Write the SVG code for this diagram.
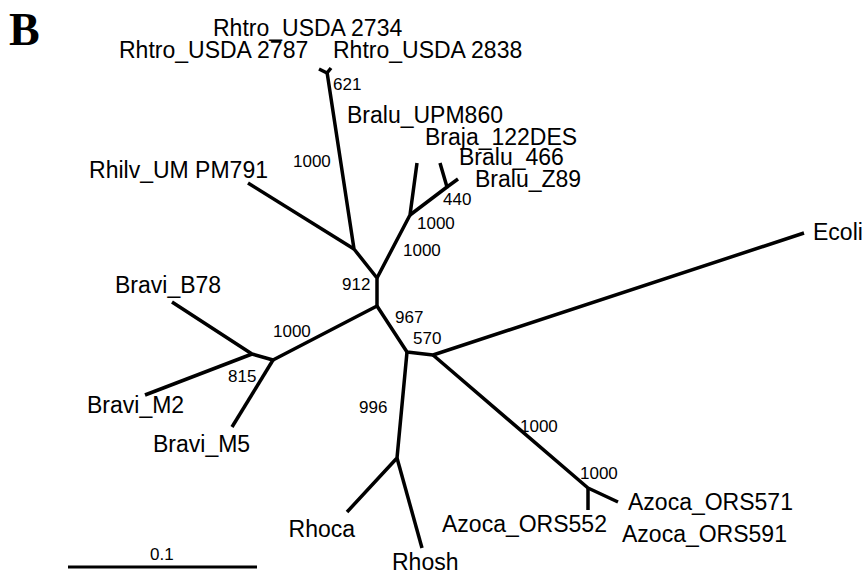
<svg xmlns="http://www.w3.org/2000/svg" width="867" height="574" viewBox="0 0 867 574">
<style>
.br{fill:none;stroke:#000;stroke-width:3.5;stroke-linejoin:round;stroke-linecap:butt}
.lf{font-family:"Liberation Sans",Arial,sans-serif;font-size:23px;fill:#000}
.bs{font-family:"Liberation Sans",Arial,sans-serif;font-size:17px;fill:#000}
</style>
<rect width="867" height="574" fill="#fff"/>
<text x="9" y="45" font-family="'Liberation Serif','Times New Roman',serif" font-weight="bold" font-size="46">B</text>
<g id="connectors">
<polyline class="br" points="377,306 377,278 354,249 327,72"/>
<polyline class="br" points="319,69 327,73 331,68"/>
<line class="br" x1="354" y1="249" x2="248" y2="183"/>
<polyline class="br" points="377,278 410,215 417,163"/>
<polyline class="br" points="410,215 447,187 440,163"/>
<line class="br" x1="447" y1="187" x2="458" y2="179"/>
<polyline class="br" points="377,306 273,360 252,354 172,302"/>
<line class="br" x1="252" y1="354" x2="145" y2="395"/>
<line class="br" x1="273" y1="360" x2="232" y2="427"/>
<polyline class="br" points="377,306 407,352 433,355 804,233"/>
<polyline class="br" points="433,355 588,488 618,502"/>
<line class="br" x1="588" y1="488" x2="588" y2="510"/>
<polyline class="br" points="407,352 397,458 347,512"/>
<line class="br" x1="397" y1="458" x2="422" y2="548"/>
<line x1="68" y1="567" x2="257" y2="567" stroke="#000" stroke-width="2.8"/>
</g>
<g id="Rhtro_USDA_2734"><text class="lf" x="213" y="36">Rhtro_USDA 2734</text></g>
<g id="Rhtro_USDA_2787"><text class="lf" x="119" y="58">Rhtro_USDA 2787</text></g>
<g id="Rhtro_USDA_2838"><text class="lf" x="333" y="58">Rhtro_USDA 2838</text></g>
<g id="Bralu_UPM860"><text class="lf" x="347" y="123">Bralu_UPM860</text></g>
<g id="Braja_122DES"><text class="lf" x="425" y="145">Braja_122DES</text></g>
<g id="Bralu_466"><text class="lf" x="459" y="165">Bralu_466</text></g>
<g id="Bralu_Z89"><text class="lf" x="475" y="187">Bralu_Z89</text></g>
<g id="Rhilv_UM_PM791"><text class="lf" x="268" y="178" text-anchor="end">Rhilv_UM PM791</text></g>
<g id="Ecoli"><text class="lf" x="813" y="240">Ecoli</text></g>
<g id="Bravi_B78"><text class="lf" x="115" y="293">Bravi_B78</text></g>
<g id="Bravi_M2"><text class="lf" x="87" y="413">Bravi_M2</text></g>
<g id="Bravi_M5"><text class="lf" x="153" y="452">Bravi_M5</text></g>
<g id="Azoca_ORS571"><text class="lf" x="628" y="510">Azoca_ORS571</text></g>
<g id="Azoca_ORS552"><text class="lf" x="442" y="532">Azoca_ORS552</text></g>
<g id="Azoca_ORS591"><text class="lf" x="622" y="542">Azoca_ORS591</text></g>
<g id="Rhoca"><text class="lf" x="355" y="537" text-anchor="end">Rhoca</text></g>
<g id="Rhosh"><text class="lf" x="392" y="570">Rhosh</text></g>
<g id="bootstrap">
<text class="bs" x="333" y="90">621</text>
<text class="bs" x="293" y="167">1000</text>
<text class="bs" x="443" y="205">440</text>
<text class="bs" x="417" y="229">1000</text>
<text class="bs" x="403" y="256">1000</text>
<text class="bs" x="342" y="290">912</text>
<text class="bs" x="395" y="323">967</text>
<text class="bs" x="413" y="344">570</text>
<text class="bs" x="273" y="337">1000</text>
<text class="bs" x="228" y="382">815</text>
<text class="bs" x="359" y="413">996</text>
<text class="bs" x="520" y="432">1000</text>
<text class="bs" x="580" y="479">1000</text>
</g>
<g id="scale"><text class="bs" x="150" y="560">0.1</text></g>
</svg>
